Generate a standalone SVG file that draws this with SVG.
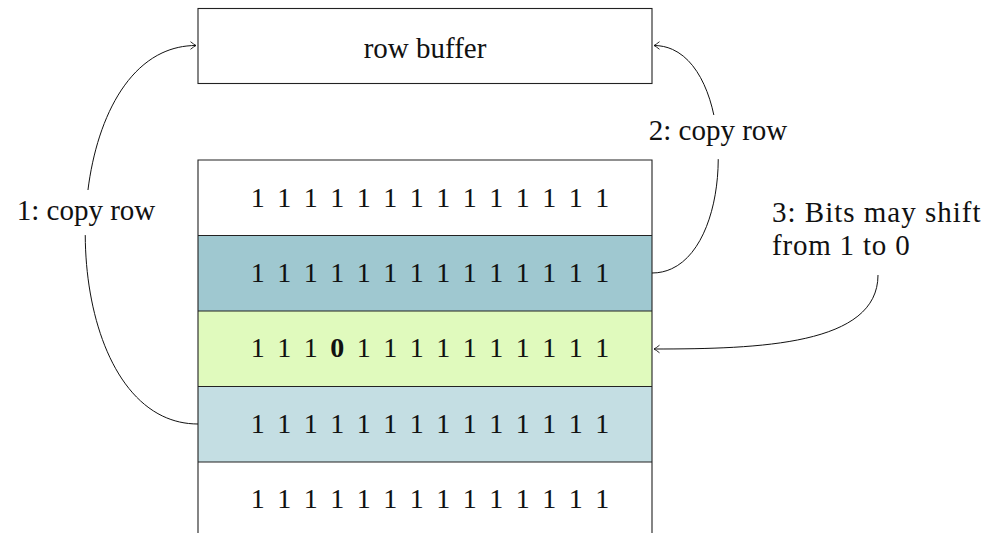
<svg xmlns="http://www.w3.org/2000/svg" width="995" height="533" viewBox="0 0 995 533">
<style>
.bits{text-anchor:middle;word-spacing:5.5px}
.box{stroke:#222;stroke-width:1.1}
.conn{fill:none;stroke:#111;stroke-width:1}
.lbl{fill:#fff;stroke:none}
</style>
<defs>
<marker id="arr" viewBox="-7 -5 9 10" refX="0" refY="0" markerWidth="9" markerHeight="10" markerUnits="userSpaceOnUse" orient="auto">
<path d="M-5.5,-3.8 Q-2,-1 0,0 Q-2,1 -5.5,3.8" fill="none" stroke="#111" stroke-width="0.9"/>
</marker>
</defs>
<g id="rowbuffer">
<rect class="box" x="198" y="8.5" width="454" height="75" fill="#fff"/>
<text x="425" y="58" text-anchor="middle" font-family="Liberation Serif" font-size="29" fill="#111">row buffer</text>
</g>
<g id="memory">
<g id="row1">
<rect x="198" y="160" width="454" height="75.5" fill="#fff"/>
<text class="bits" x="430" y="207" font-family="Liberation Serif" font-size="28" fill="#111">1 1 1 1 1 1 1 1 1 1 1 1 1 1</text>
</g>
<g id="row2">
<rect x="198" y="235.5" width="454" height="75.5" fill="#9fc8d0"/>
<text class="bits" x="430" y="282" font-family="Liberation Serif" font-size="28" fill="#111">1 1 1 1 1 1 1 1 1 1 1 1 1 1</text>
</g>
<g id="row3">
<rect x="198" y="311" width="454" height="75.5" fill="#e0fabd"/>
<text class="bits" x="430" y="357" font-family="Liberation Serif" font-size="28" fill="#111">1 1 1 <tspan font-weight="bold">0</tspan> 1 1 1 1 1 1 1 1 1 1</text>
</g>
<g id="row4">
<rect x="198" y="386.5" width="454" height="75.5" fill="#c4dee3"/>
<text class="bits" x="430" y="433" font-family="Liberation Serif" font-size="28" fill="#111">1 1 1 1 1 1 1 1 1 1 1 1 1 1</text>
</g>
<g id="row5">
<rect x="198" y="462" width="454" height="75" fill="#fff"/>
<text class="bits" x="430" y="508" font-family="Liberation Serif" font-size="28" fill="#111">1 1 1 1 1 1 1 1 1 1 1 1 1 1</text>
</g>
<path class="box" fill="none" d="M198,540 V160 H652 V540 M198,235.5 H652 M198,311 H652 M198,386.5 H652 M198,462 H652"/>
</g>
<g id="connectors">
<path class="conn" d="M198,424 C48,424 48,45.5 196,45.5" marker-end="url(#arr)"/>
<path class="conn" d="M652,273 C740,273 740,45.5 654,45.5" marker-end="url(#arr)"/>
<path class="conn" d="M878,275 C878,345 760,349 654,349" marker-end="url(#arr)"/>
</g>
<g id="label1">
<rect class="lbl" x="10" y="190" width="152" height="45"/>
<text x="86" y="220" text-anchor="middle" font-family="Liberation Serif" font-size="29" fill="#111">1: copy row</text>
</g>
<g id="label2">
<rect class="lbl" x="640" y="115" width="157" height="44"/>
<text x="718" y="140" text-anchor="middle" font-family="Liberation Serif" font-size="29" fill="#111">2: copy row</text>
</g>
<g id="label3">
<text x="772" y="222" font-family="Liberation Serif" font-size="29" letter-spacing="1" fill="#111">3: Bits may shift</text>
<text x="772" y="255" font-family="Liberation Serif" font-size="29" letter-spacing="0.8" fill="#111">from 1 to 0</text>
</g>
</svg>
